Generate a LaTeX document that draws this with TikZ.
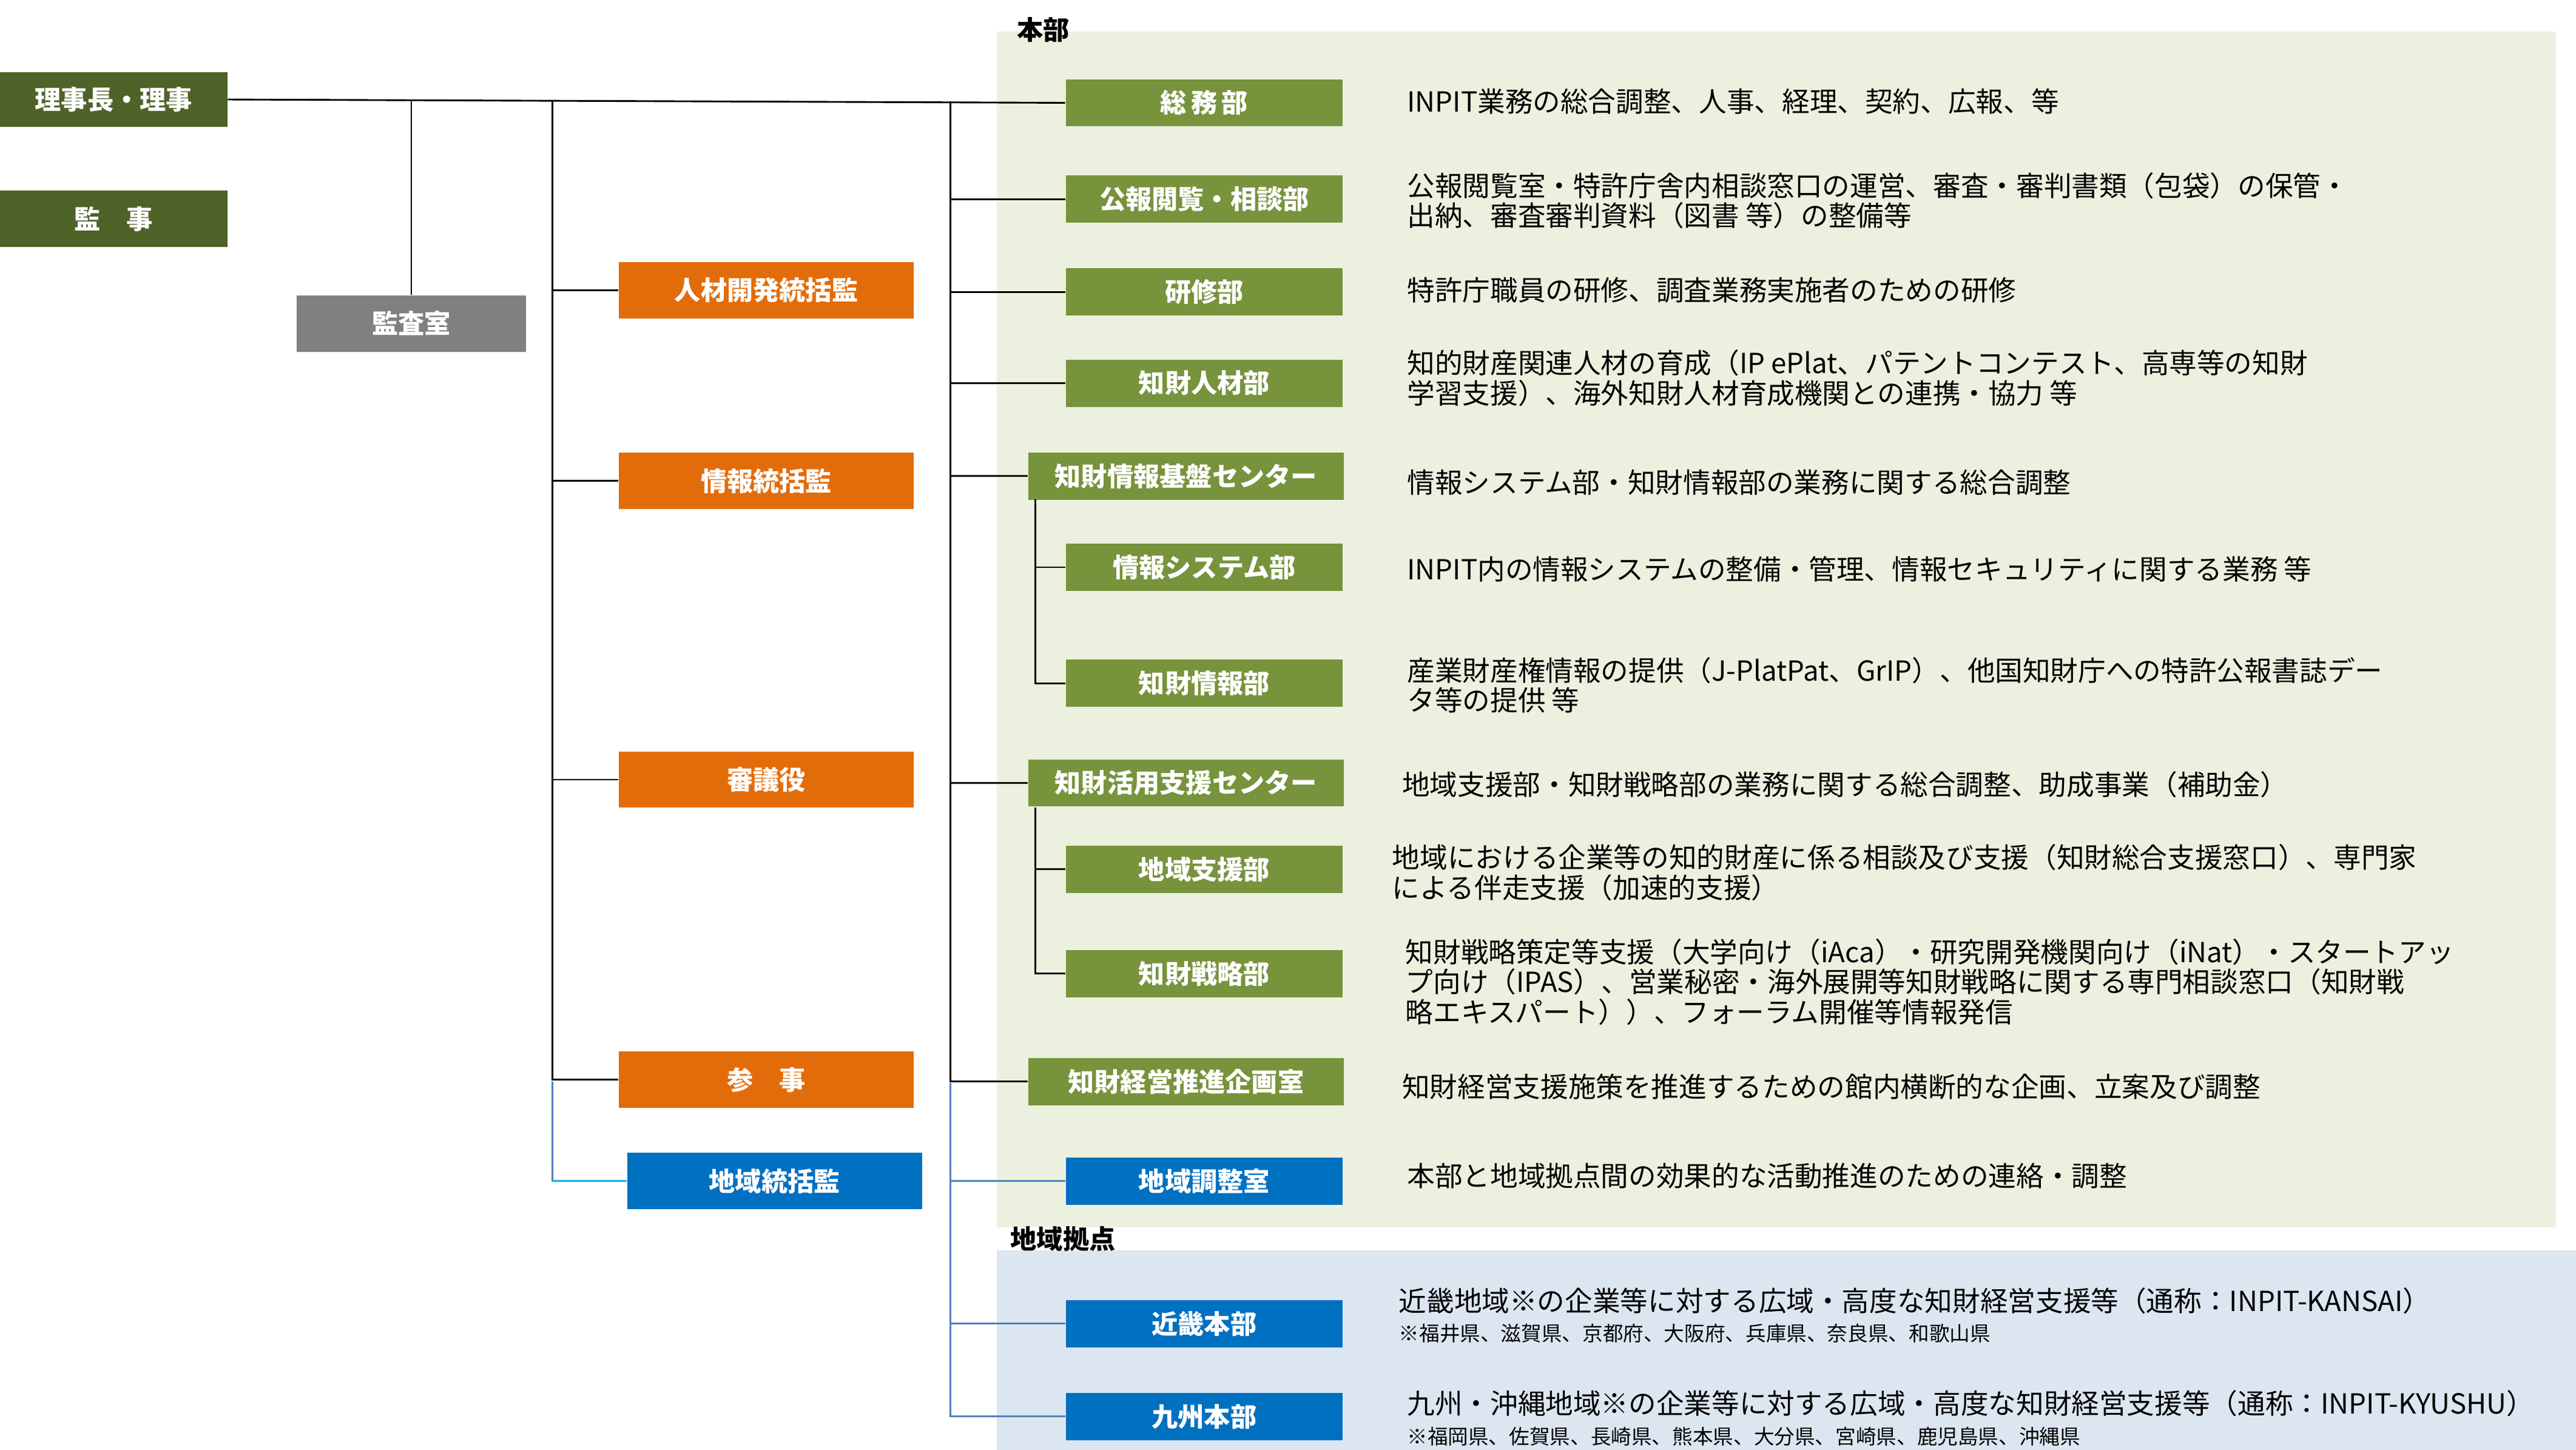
\documentclass[tikz,border=0pt]{standalone}
\usepackage{fontspec}
\setmainfont{Noto Sans CJK JP}
\usetikzlibrary{positioning}
\definecolor{olive}{HTML}{4F6228}
\definecolor{leaf}{HTML}{77933C}
\definecolor{orng}{HTML}{E36C0A}
\definecolor{blu}{HTML}{0070C0}
\definecolor{lnblu}{HTML}{4F81BD}
\definecolor{cyn}{HTML}{00B0F0}
\definecolor{bggreen}{HTML}{EBF1DE}
\definecolor{bgblue}{HTML}{DCE6F1}
\tikzset{
  box/.style={fill=#1, text=white, font=\bfseries\fontsize{9}{10}\selectfont, inner sep=0pt, minimum height=0.57cm},
  dept/.style={box=leaf, minimum width=3.34cm},
  ctr/.style={box=leaf, minimum width=3.8cm},
  desc/.style={anchor=west, align=left, inner sep=0pt, font=\fontsize{9.5}{10.3}\selectfont},
  note/.style={font=\fontsize{7}{8}\selectfont},
  ln/.style={line width=0.6pt},
}
\begin{document}
\begin{tikzpicture}[x=0.02cm, y=-0.02cm]
\useasboundingbox (0,0) rectangle (1553,874);

% backgrounds
\fill[bggreen] (601,19) rectangle (1541,740);
\fill[bgblue] (601,754) rectangle (1553,882);
\node[anchor=west, font=\bfseries\fontsize{9}{10}\selectfont] (honbu) at (607,18) {本部};
\node[anchor=west, font=\bfseries\fontsize{9}{10}\selectfont] (chiiki) at (603,747) {地域拠点};

% left column
\node[box=olive, minimum width=2.74cm, minimum height=0.66cm] (riji) at (68.5,60) {理事長・理事};
\node[box=olive, minimum width=2.74cm, minimum height=0.68cm] (kanji) at (68.5,132) {監\hspace{1em}事};
\node[box=gray, minimum width=2.76cm, minimum height=0.68cm] (kansa) at (248,195) {監査室};
\node[box=orng, minimum width=3.56cm, minimum height=0.68cm] (jinzai) at (462,175) {人材開発統括監};
\node[box=orng, minimum width=3.56cm, minimum height=0.68cm] (joho) at (462,290) {情報統括監};
\node[box=orng, minimum width=3.56cm, minimum height=0.68cm] (shingi) at (462,470) {審議役};
\node[box=orng, minimum width=3.56cm, minimum height=0.68cm] (sanji) at (462,651) {参\hspace{1em}事};
\node[box=blu, minimum width=3.56cm, minimum height=0.68cm] (tokatsu) at (467,712) {地域統括監};

% right column
\node[dept] (somu) at (726,62) {総\,務\,部};
\node[dept] (koho) at (726,120) {公報閲覧・相談部};
\node[dept] (kenshu) at (726,176) {研修部};
\node[dept] (chizai) at (726,231) {知財人材部};
\node[ctr] (kiban) at (715,287) {知財情報基盤センター};
\node[dept] (system) at (726,342) {情報システム部};
\node[dept] (chijoho) at (726,412) {知財情報部};
\node[ctr] (katsuyo) at (715,472) {知財活用支援センター};
\node[dept] (shien) at (726,524) {地域支援部};
\node[dept] (senryaku) at (726,587) {知財戦略部};
\node[ctr] (keiei) at (715,652) {知財経営推進企画室};
\node[dept, box=blu] (chosei) at (726,712) {地域調整室};
\node[dept, box=blu] (kinki) at (726,798) {近畿本部};
\node[dept, box=blu] (kyushu) at (726,854) {九州本部};

% descriptions
\node[desc] (d1) at (848,61) {INPIT業務の総合調整、人事、経理、契約、広報、等};
\node[desc] (d2) at (848,121) {公報閲覧室・特許庁舎内相談窓口の運営、審査・審判書類（包袋）の保管・\\出納、審査審判資料（図書 等）の整備等};
\node[desc] (d3) at (848,175) {特許庁職員の研修、調査業務実施者のための研修};
\node[desc] (d4) at (848,228) {知的財産関連人材の育成（IP ePlat、パテントコンテスト、高専等の知財\\学習支援）、海外知財人材育成機関との連携・協力 等};
\node[desc] (d5) at (848,291) {情報システム部・知財情報部の業務に関する総合調整};
\node[desc] (d6) at (848,343) {INPIT内の情報システムの整備・管理、情報セキュリティに関する業務 等};
\node[desc] (d7) at (848,413) {産業財産権情報の提供（J-PlatPat、GrIP）、他国知財庁への特許公報書誌デー\\タ等の提供 等};
\node[desc] (d8) at (845,473) {地域支援部・知財戦略部の業務に関する総合調整、助成事業（補助金）};
\node[desc] (d9) at (839,526) {地域における企業等の知的財産に係る相談及び支援（知財総合支援窓口）、専門家\\による伴走支援（加速的支援）};
\node[desc] (d10) at (847,592) {知財戦略策定等支援（大学向け（iAca）・研究開発機関向け（iNat）・スタートアッ\\プ向け（IPAS）、営業秘密・海外展開等知財戦略に関する専門相談窓口（知財戦\\略エキスパート））、フォーラム開催等情報発信};
\node[desc] (d11) at (845,655) {知財経営支援施策を推進するための館内横断的な企画、立案及び調整};
\node[desc] (d12) at (848,709) {本部と地域拠点間の効果的な活動推進のための連絡・調整};
\node[desc] (d13) at (843,793) {近畿地域※の企業等に対する広域・高度な知財経営支援等（通称：INPIT-KANSAI）\\{\fontsize{7}{8}\selectfont ※福井県、滋賀県、京都府、大阪府、兵庫県、奈良県、和歌山県}};
\node[desc] (d14) at (848,855) {九州・沖縄地域※の企業等に対する広域・高度な知財経営支援等（通称：INPIT-KYUSHU）\\{\fontsize{7}{8}\selectfont ※福岡県、佐賀県、長崎県、熊本県、大分県、宮崎県、鹿児島県、沖縄県}};

% trunks
\coordinate (ta) at (248,61);
\coordinate (tb) at (333,61);
\coordinate (tb2) at (333,652);
\coordinate (tc) at (573,61);
\coordinate (tc2) at (573,653);
\coordinate (tc3) at (573,855);
\coordinate (td) at (624,301);
\coordinate (te) at (624,487);

\draw[ln] (riji.east) -- (somu.west);
\draw[ln] (ta) -- (kansa.north);
\draw[ln] (tb) |- (jinzai.west);
\draw[ln] (tb) |- (joho.west);
\draw[ln] (tb) |- (shingi.west);
\draw[ln] (tb) |- (sanji.west);
\draw[ln, lnblu] (tb2) -- (333,712);
\draw[ln, cyn] (333,712) -- (tokatsu.west);
\draw[ln] (tc) |- (koho.west);
\draw[ln] (tc) |- (kenshu.west);
\draw[ln] (tc) |- (chizai.west);
\draw[ln] (tc) |- (kiban.west);
\draw[ln] (tc) |- (katsuyo.west);
\draw[ln] (tc) |- (keiei.west);
\draw[ln, lnblu] (tc2) |- (chosei.west);
\draw[ln, lnblu] (tc2) |- (kinki.west);
\draw[ln, lnblu] (tc2) |- (kyushu.west);
\draw[ln] (td) |- (system.west);
\draw[ln] (td) |- (chijoho.west);
\draw[ln] (te) |- (shien.west);
\draw[ln] (te) |- (senryaku.west);
\end{tikzpicture}
\end{document}
